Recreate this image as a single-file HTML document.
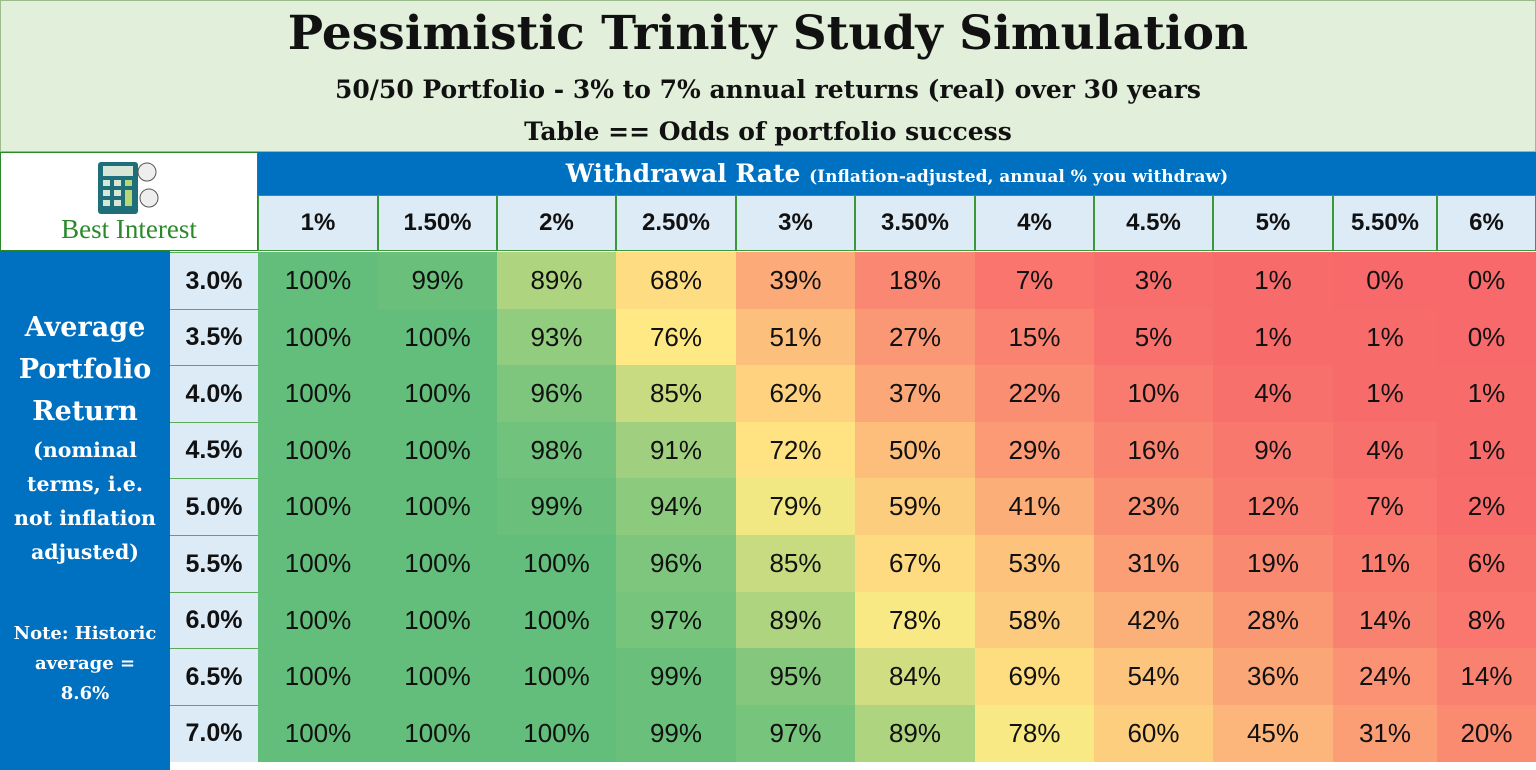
<!DOCTYPE html>
<html><head><meta charset="utf-8"><style>
body{margin:0;width:1536px;height:770px;background:#fff;position:relative;overflow:hidden;font-family:"Liberation Sans",sans-serif}
.a{position:absolute;box-sizing:border-box;display:flex;align-items:center;justify-content:center;text-align:center}
.slab{font-family:"DejaVu Serif",serif;font-weight:bold}
</style></head><body>
<div class="a" style="left:0;top:0;width:1536px;height:152px;background:#e2efda;border:1px solid #9bbb8a"></div>
<div class="a slab" style="left:0;top:5px;width:1536px;height:56px;font-size:47px;color:#111;font-weight:900">Pessimistic Trinity Study Simulation</div>
<div class="a slab" style="left:0;top:70px;width:1536px;height:38px;font-size:25px;color:#111">50/50 Portfolio - 3% to 7% annual returns (real) over 30 years</div>
<div class="a slab" style="left:0;top:112px;width:1536px;height:38px;font-size:25px;color:#111">Table == Odds of portfolio success</div>
<div class="a" style="left:0;top:152px;width:258px;height:99px;background:#fff;border:1px solid #2a8a2a;flex-direction:column">
<svg width="70" height="60" viewBox="0 0 70 60"><rect x="4" y="4" width="40" height="52" rx="3" fill="#1f6f7a"/><rect x="9" y="8" width="30" height="10" fill="#d8e6d8"/><g fill="#d8e6d8"><rect x="9" y="22" width="7" height="6"/><rect x="20" y="22" width="7" height="6"/><rect x="9" y="32" width="7" height="6"/><rect x="20" y="32" width="7" height="6"/><rect x="9" y="42" width="7" height="6"/><rect x="20" y="42" width="7" height="6"/></g><rect x="31" y="22" width="7" height="6" fill="#b8d878"/><rect x="31" y="32" width="7" height="16" fill="#b8d878"/><circle cx="53" cy="14" r="9" fill="#eee" stroke="#555"/><circle cx="55" cy="40" r="9" fill="#eee" stroke="#555"/></svg>
<div style="font-family:'Liberation Serif',serif;color:#2a8a2a;font-size:27px;margin-top:-4px">Best Interest</div></div>
<div class="a slab" style="left:258px;top:152px;width:1278px;height:43px;background:#0070c0;color:#fff;font-size:25px"><span>Withdrawal Rate <span style="font-size:17px">(Inflation-adjusted, annual % you withdraw)</span></span></div>
<div class="a slab" style="left:0;top:251px;width:170px;height:519px;background:#0070c0;color:#fff;flex-direction:column;justify-content:flex-start;padding-top:56px;line-height:42px;font-size:27px">Average<br>Portfolio<br>Return<div style="font-size:20.5px;line-height:34px">(nominal<br>terms, i.e.<br>not inflation<br>adjusted)</div><div style="font-size:18px;line-height:30px;margin-top:50px">Note: Historic<br>average =<br>8.6%</div></div>
<div id="g"></div>
<script>
var cols=[258,378,497,616,736,855,975,1094,1213,1333,1437,1536];
var hd=["1%","1.50%","2%","2.50%","3%","3.50%","4%","4.5%","5%","5.50%","6%"];
var rl=["3.0%","3.5%","4.0%","4.5%","5.0%","5.5%","6.0%","6.5%","7.0%"];
var d=[[100,99,89,68,39,18,7,3,1,0,0],[100,100,93,76,51,27,15,5,1,1,0],[100,100,96,85,62,37,22,10,4,1,1],[100,100,98,91,72,50,29,16,9,4,1],[100,100,99,94,79,59,41,23,12,7,2],[100,100,100,96,85,67,53,31,19,11,6],[100,100,100,97,89,78,58,42,28,14,8],[100,100,100,99,95,84,69,54,36,24,14],[100,100,100,99,97,89,78,60,45,31,20]];
function col(v){var R=[248,105,107],Y=[255,235,132],G=[99,190,123],m=77,a,b,t;if(v<m){a=R;b=Y;t=v/m}else{a=Y;b=G;t=(v-m)/(100-m)}return "rgb("+a.map((x,i)=>Math.round(x+(b[i]-x)*t)).join(",")+")"}
var h="";
for(var j=0;j<11;j++)h+='<div class="a" style="left:'+cols[j]+'px;top:195px;width:'+(cols[j+1]-cols[j])+'px;height:56px;background:#ddebf7;border:1px solid #3a9a3a;font-weight:bold;font-size:24px;color:#111">'+hd[j]+'</div>';
for(var i=0;i<9;i++){var y=252+i*56.6;
h+='<div class="a" style="left:170px;top:'+y+'px;width:88px;height:57px;background:#ddebf7;border-top:1px solid #5aaa5a;font-weight:bold;font-size:25px;color:#111">'+rl[i]+'</div>';
for(var j=0;j<11;j++)h+='<div class="a" style="left:'+cols[j]+'px;top:'+y+'px;width:'+(cols[j+1]-cols[j])+'px;height:57px;background:'+col(d[i][j])+';font-size:26px;color:#111">'+d[i][j]+'%</div>';}
document.getElementById("g").innerHTML=h;
</script>
</body></html>
